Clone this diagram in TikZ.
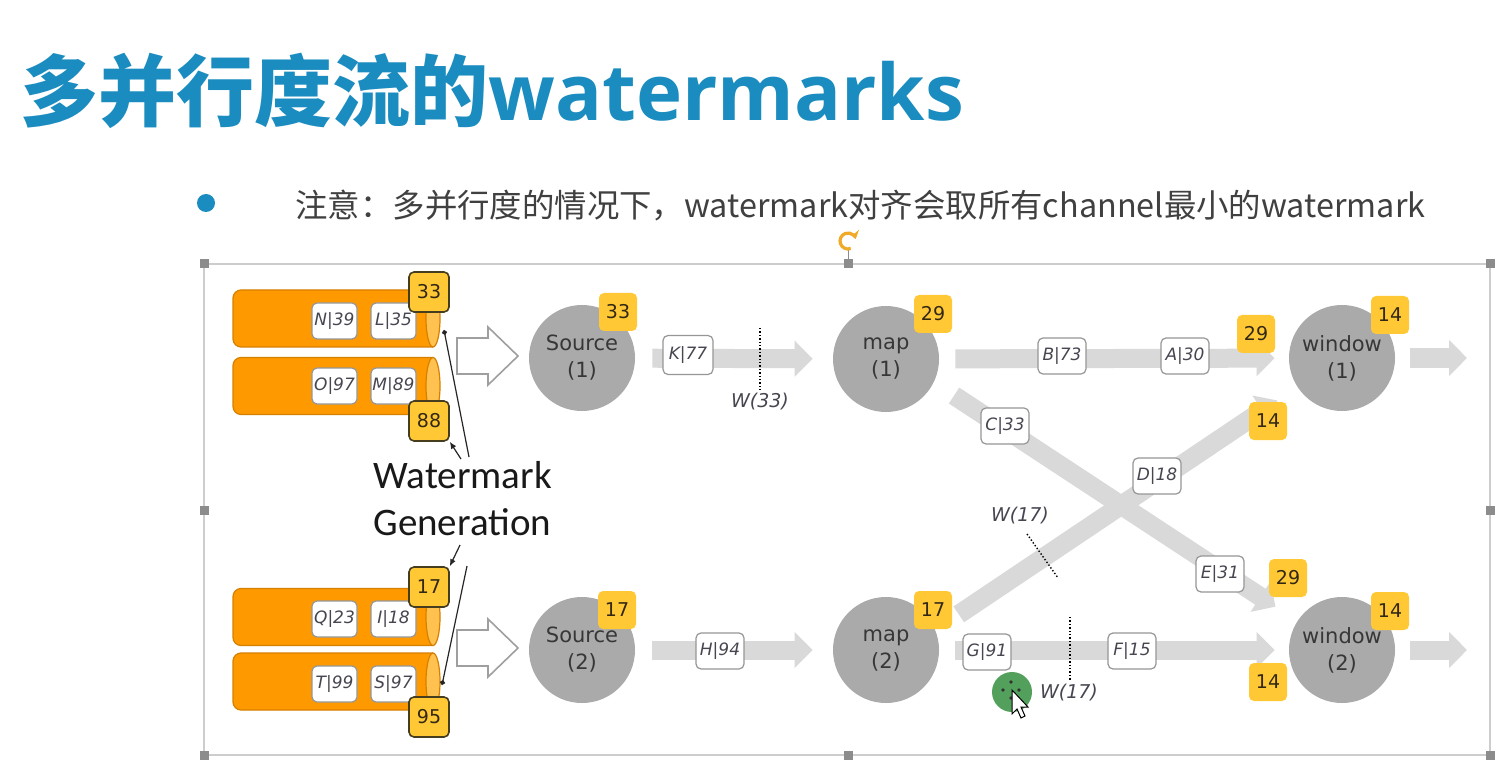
\documentclass[tikz,border=0pt]{standalone}
\usepackage{fontspec}
\usetikzlibrary{arrows.meta,calc}
\setmainfont{DejaVu Sans}
\newfontfamily\cjk{Noto Sans CJK SC}
\newfontfamily\opensans{Open Sans}
\newfontfamily\calib{Carlito}

\definecolor{titleblue}{RGB}{26,140,192}
\definecolor{bodytext}{RGB}{64,64,64}
\definecolor{nodegray}{RGB}{170,170,170}
\definecolor{nodetext}{RGB}{55,55,55}
\definecolor{flowgray}{RGB}{217,217,217}
\definecolor{badgeyellow}{RGB}{255,200,52}
\definecolor{badgeline}{RGB}{70,60,30}
\definecolor{badgetext}{RGB}{50,40,20}
\definecolor{cylorange}{RGB}{255,153,0}
\definecolor{cylline}{RGB}{214,128,0}
\definecolor{cylcapfill}{RGB}{255,194,80}
\definecolor{recordline}{RGB}{150,150,150}
\definecolor{recordtext}{RGB}{70,70,80}
\definecolor{framecol}{RGB}{205,205,205}
\definecolor{handlecol}{RGB}{140,140,140}
\definecolor{rotorange}{RGB}{240,170,40}
\definecolor{cursorgreen}{RGB}{82,160,92}

\tikzset{
  opnode/.style={circle, fill=nodegray, minimum size=53pt, inner sep=0pt, align=center,
    text=nodetext, font=\fontsize{10.5}{13.5}\selectfont},
  badge/.style={fill=badgeyellow, rounded corners=2.5pt, minimum size=19pt, inner sep=0pt,
    text=badgetext, font=\fontsize{9.5}{10}\selectfont},
  srcbadge/.style={badge, draw=badgeline, line width=0.8pt, minimum size=20pt},
  record/.style={draw=recordline, fill=white, rounded corners=2.5pt, line width=0.6pt,
    minimum width=24pt, minimum height=18pt, inner sep=0pt, text=recordtext,
    font=\fontsize{8.5}{9}\selectfont\itshape},
  smallrecord/.style={record, minimum width=22.5pt},
  flow/.style={draw=flowgray, line width=9.5pt, -{Triangle[length=9pt,width=17.5pt]}},
  wmline/.style={densely dotted, line width=0.7pt, black},
  wmlabel/.style={inner sep=0pt, text=recordtext, font=\fontsize{9.5}{10}\selectfont\itshape},
  hollow/.style={draw=gray!75, fill=white, line width=0.8pt},
  cylbody/.style={fill=cylorange, draw=cylline, line width=0.6pt},
  cylcap/.style={fill=cylcapfill, draw=cylline, line width=0.6pt},
  genline/.style={line width=0.6pt, black!85},
}

\begin{document}
\begin{tikzpicture}[x=0.5pt,y=-0.5pt]
\fill[white] (0,0) rectangle (1508,780);
\useasboundingbox (0,0) rectangle (1508,780);

% heading and note
\node[anchor=base west, inner sep=0pt, text=titleblue,
      font=\cjk\bfseries\fontsize{39}{41}\selectfont] (title) at (20,121)
      {多并行度流的{\opensans\bfseries watermarks}};
\fill[titleblue] (206,203) circle (9);
\node[anchor=west, inner sep=0pt, text=bodytext, font=\cjk\fontsize{16.2}{18}\selectfont] (note) at (295,205)
      {注意：多并行度的情况下，watermark对齐会取所有channel最小的watermark};

% selection frame with handles
\draw[framecol, line width=0.75pt] (204,264) rectangle (1490,755);
\foreach \p in {(204,264),(848,264),(1490,264),(204,510),(1490,510),(204,755),(848,755),(1490,755)}
  \fill[handlecol] \p ++(-4.5,-4.5) rectangle ++(9,9);
\draw[handlecol, line width=0.5pt] (848,250) -- (848,260);
\draw[rotorange, line width=1.6pt, -{Stealth[length=4pt,width=5.5pt]}]
  ([shift={(70:8)}]848,241) arc[start angle=70, end angle=345, radius=8];

% input partitions (cylinders)
\foreach \cy in {318.5,386,617,681.5}{
  \filldraw[cylbody, rounded corners=4pt] (433,\cy-28.5) -- (233,\cy-28.5) -- (233,\cy+28.5) -- (433,\cy+28.5);
  \filldraw[cylcap] (433,\cy) ellipse [x radius=7, y radius=28.5];
}
\node[smallrecord] (n39) at (334.5,321) {N|39};
\node[smallrecord] (l35) at (393.5,321) {L|35};
\node[smallrecord] (o97) at (334.5,386) {O|97};
\node[smallrecord] (m89) at (393.5,386) {M|89};
\node[smallrecord] (q23) at (334.5,619) {Q|23};
\node[smallrecord] (i18) at (393.5,619) {I|18};
\node[smallrecord] (t99) at (334.5,684) {T|99};
\node[smallrecord] (s97) at (393.5,684) {S|97};

\node[srcbadge] (b33) at (429,292) {33};
\node[srcbadge] (b88) at (429,421) {88};
\node[srcbadge] (b17) at (429,587) {17};
\node[srcbadge] (b95) at (429,717) {95};

% watermark generation callout
\node[anchor=west, inner sep=0pt, font=\calib\fontsize{19.5}{23.5}\selectfont, text=black!90] (wmtxt) at (373,475) {Watermark};
\node[anchor=west, inner sep=0pt, font=\calib\fontsize{19.5}{23.5}\selectfont, text=black!90] (gentxt) at (373,522) {Generation};
\coordinate (ga) at (469,457);
\coordinate (gb) at (461,459);
\coordinate (gc) at (460,545);
\coordinate (gd) at (467,566);
\coordinate (cyl1end) at (444,330);
\coordinate (cyl4end) at (442,685);
\draw[genline, -{Circle[length=2.5pt]}] (ga) -- (cyl1end);
\draw[genline, -{Latex[length=3.5pt,width=3pt]}] (gb) -- (b88.south east);
\draw[genline, -{Latex[length=3.5pt,width=3pt]}] (gc) -- (b17.north east);
\draw[genline, -{Circle[length=2.5pt]}] (gd) -- (cyl4end);

% hollow arrows into the sources
\draw[hollow, shift={(457,356)}] (0,-18) -- (31,-18) -- (31,-29) -- (61,0) -- (31,29) -- (31,18) -- (0,18) -- cycle;
\draw[hollow, shift={(457,648)}] (0,-18) -- (31,-18) -- (31,-29) -- (61,0) -- (31,29) -- (31,18) -- (0,18) -- cycle;

% operators
\node[opnode] (src1) at (582,358) {Source\\(1)};
\node[opnode] (src2) at (582,650) {Source\\(2)};
\node[opnode] (map1) at (886,359) {map\\(1)};
\node[opnode] (map2) at (886,650) {map\\(2)};
\node[opnode] (win1) at (1342,358) {window\\(1)};
\node[opnode] (win2) at (1342,650) {window\\(2)};
\coordinate (out1) at (1467,358);
\coordinate (out2) at (1467,650);

% streams
\draw[flow, shorten <=8.5pt, shorten >=10pt] (src1) -- (map1);
\draw[flow, shorten <=8.5pt, shorten >=10pt] (src2) -- (map2);
\draw[flow, shorten <=8pt, shorten >=7pt] (map1) -- (win1);
\draw[flow, shorten <=8pt, shorten >=7pt] (map2) -- (win2);
\draw[flow, shorten <=12pt, shorten >=13pt] (map1.-26.6) -- (win2.147.9);
\draw[flow, shorten <=14pt, shorten >=12pt] (map2.22.8) -- (win1.213.3);
\draw[flow, shorten <=7.5pt] (win1) -- (out1);
\draw[flow, shorten <=7.5pt] (win2) -- (out2);

% records in flight
\node[record, minimum width=25pt, minimum height=19.5pt] (k77) at (688,355) {K|77};
\node[record] (b73) at (1062,356) {B|73};
\node[record] (a30) at (1185,356) {A|30};
\node[record] (c33) at (1005,426) {C|33};
\node[record] (d18) at (1157,476) {D|18};
\node[record] (e31) at (1220,574) {E|31};
\node[record] (h94) at (720,651) {H|94};
\node[record] (g91) at (987,652) {G|91};
\node[record] (f15) at (1132,651) {F|15};

% watermarks in flight
\coordinate (w33a) at (760,328);
\coordinate (w33b) at (760,390);
\draw[wmline] (w33a) -- (w33b);
\node[wmlabel] (w33) at (760,402) {W(33)};
\coordinate (w17a) at (1027,534);
\coordinate (w17b) at (1058,578);
\draw[wmline] (w17a) -- (w17b);
\node[wmlabel] (w17d) at (1020,516) {W(17)};
\coordinate (w17c) at (1070,617);
\coordinate (w17e) at (1070,681);
\draw[wmline] (w17c) -- (w17e);
\node[wmlabel] (w17h) at (1069,693) {W(17)};

% current watermarks
\node[badge] (bs1) at (618,312) {33};
\node[badge] (bs2) at (617,610) {17};
\node[badge] (bm1) at (933,314) {29};
\node[badge] (bm2) at (933,610) {17};
\node[badge] (bw1) at (1390,315) {14};
\node[badge] (bw2) at (1390,611) {14};
\node[badge] (bc1) at (1256,334) {29};
\node[badge] (bc2) at (1268,421) {14};
\node[badge] (bc3) at (1288,578) {29};
\node[badge] (bc4) at (1268,682) {14};

% mouse pointer
\fill[cursorgreen] (1012,692) circle (20);
\foreach \a in {0,90,180,270}
  \fill[black!80] ([shift={(\a:8)}]1011,690) circle (1.8);
\filldraw[fill=white, draw=black, line width=0.5pt, shift={(1012,690)}]
  (0,0) -- (0,24) -- (5,19) -- (9,28) -- (13,26) -- (9,17) -- (16,17) -- cycle;
\end{tikzpicture}
\end{document}
